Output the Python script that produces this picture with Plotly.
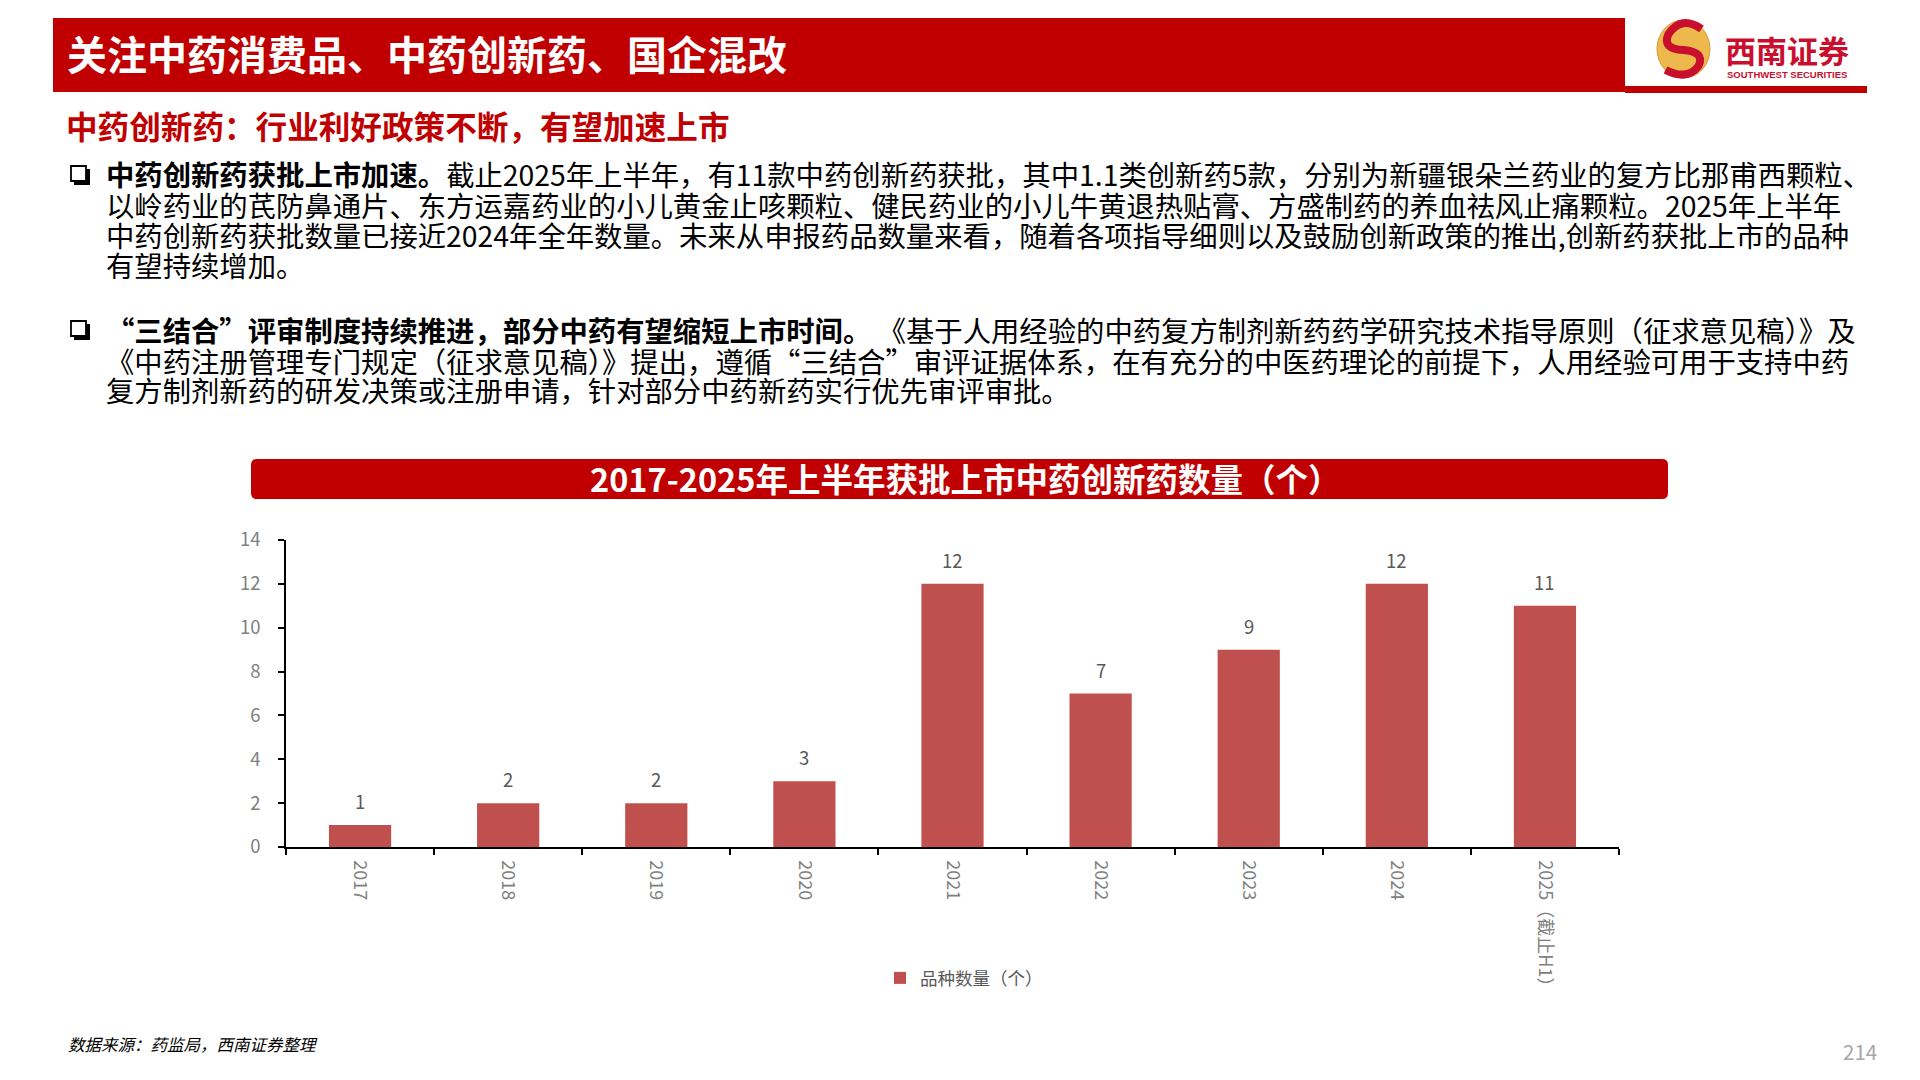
import plotly.graph_objects as go

# ---------------- data ----------------
categories = ["2017", "2018", "2019", "2020", "2021", "2022", "2023", "2024", "2025（截止H1）"]
counts = [1, 2, 2, 3, 12, 7, 9, 12, 11]
y_ticks = [0, 2, 4, 6, 8, 10, 12, 14]
series_name = "品种数量（个）"

header_title = "关注中药消费品、中药创新药、国企混改"
sub_title = "中药创新药：行业利好政策不断，有望加速上市"
chart_title = "2017-2025年上半年获批上市中药创新药数量（个）"
para1_lines = [
    "<b>中药创新药获批上市加速。</b>截止2025年上半年，有11款中药创新药获批，其中1.1类创新药5款，分别为新疆银朵兰药业的复方比那甫西颗粒、",
    "以岭药业的芪防鼻通片、东方运嘉药业的小儿黄金止咳颗粒、健民药业的小儿牛黄退热贴膏、方盛制药的养血祛风止痛颗粒。2025年上半年",
    "中药创新药获批数量已接近2024年全年数量。未来从申报药品数量来看，随着各项指导细则以及鼓励创新政策的推出,创新药获批上市的品种",
    "有望持续增加。",
]
para2_lines = [
    "<b>“三结合”评审制度持续推进，部分中药有望缩短上市时间。</b> 《基于人用经验的中药复方制剂新药药学研究技术指导原则（征求意见稿）》及",
    "《中药注册管理专门规定（征求意见稿）》提出，遵循“三结合”审评证据体系，在有充分的中医药理论的前提下，人用经验可用于支持中药",
    "复方制剂新药的研发决策或注册申请，针对部分中药新药实行优先审评审批。",
]
source_text = "数据来源：药监局，西南证券整理"
page_no = "214"

# ---------------- helpers ----------------
W, H = 1920, 1080
OFF = 8  # page body margin offset of the rendered figure
FONT = "Noto Sans CJK SC, Noto Sans, sans-serif"
RED = "#C00000"


def px(x):
    return (x - OFF) / W


def py(y):
    return 1 - (y - OFF) / H


def path_px(cmds):
    out = []
    for c in cmds:
        if isinstance(c, str):
            out.append(c)
        else:
            out.append(f"{px(c[0]):.6f},{py(c[1]):.6f}")
    return " ".join(out)


shapes = []
annotations = []


def rect(x0, y0, x1, y1, fill, line_color=None, line_width=0):
    shapes.append(dict(type="rect", xref="paper", yref="paper",
                       x0=px(x0), x1=px(x1), y0=py(y1), y1=py(y0),
                       fillcolor=fill, line=dict(color=line_color or fill, width=line_width),
                       layer="above"))


def text(x, y, s, size, color="black", xanchor="left", bold=False, italic=False, family=FONT):
    annotations.append(dict(xref="paper", yref="paper", x=px(x), y=py(y), text=(f"<b>{s}</b>" if bold else s),
                            showarrow=False, xanchor=xanchor, yanchor="middle",
                            font=dict(size=size, color=color, family=family,
                                      style="italic" if italic else "normal")))


# header
rect(53, 18, 1625, 92, RED)
rect(1625, 86, 1867, 93, RED)
text(65, 53, header_title, 40, "white", bold=True)

# logo
shapes.append(dict(type="circle", xref="paper", yref="paper", x0=px(1657), x1=px(1710), y0=py(78), y1=py(20),
                   fillcolor="#EDB84C", line=dict(color="#D39A3A", width=1), layer="above"))
cx, cy = 1683.5, 49
s_path = path_px(["M", (cx + 18, cy - 20), "Q", (cx - 2, cy - 34), (cx - 15, cy - 15),
                  "Q", (cx - 22, cy), (cx, cy + 1), "Q", (cx + 22, cy + 3), (cx + 15, cy + 17),
                  "Q", (cx + 4, cy + 32), (cx - 18, cy + 21)])
shapes.append(dict(type="path", xref="paper", yref="paper", path=s_path,
                   line=dict(color="#C8102E", width=8), layer="above"))
text(1723, 49, "西南证券", 31, "#C8102E", bold=True)
text(1725, 74, "SOUTHWEST SECURITIES", 9.5, "#C8102E", bold=True, family="Liberation Sans, Arial, sans-serif")

# subtitle
text(64, 125, sub_title, 31.6, RED, bold=True)

# bullets + body text
line_y1 = [174, 204.5, 234, 264.5]
line_y2 = [329, 360, 390]
for by in (line_y1[0], line_y2[0]):
    rect(74, by - 5, 90, by + 11, "black")
    rect(71, by - 8, 86, by + 7, "white", "black", 1.8)
for ly, s in zip(line_y1, para1_lines):
    text(104, ly, s, 28.35, "black")
for ly, s in zip(line_y2, para2_lines):
    text(104, ly, s, 28.35, "black")

# chart title bar (rounded)
x0, y0, x1, y1, r = 251, 459, 1668, 499, 6
bar_path = path_px(["M", (x0 + r, y0), "L", (x1 - r, y0), "Q", (x1, y0), (x1, y0 + r),
                    "L", (x1, y1 - r), "Q", (x1, y1), (x1 - r, y1), "L", (x0 + r, y1),
                    "Q", (x0, y1), (x0, y1 - r), "L", (x0, y0 + r), "Q", (x0, y0), (x0 + r, y0), "Z"])
shapes.append(dict(type="path", xref="paper", yref="paper", path=bar_path,
                   fillcolor=RED, line=dict(color=RED, width=0), layer="above"))
text(964.5, 477.5, chart_title, 32.5, "white", xanchor="center", bold=True)

# footer
text(66, 1043.5, source_text, 16.5, "black", italic=True)
text(1841, 1051, page_no, 20.5, "#A6A6A6")

# data labels anchored on the data axes (category index positions)
for i, v in enumerate(counts):
    annotations.append(dict(xref="x", yref="y", x=i, y=v, text=str(v), showarrow=False,
                            xanchor="center", yanchor="middle", yshift=24,
                            font=dict(size=18.5, color="#595959", family=FONT)))

# ---------------- figure ----------------
fig = go.Figure()
fig.add_trace(go.Bar(x=categories, y=counts, name=series_name,
                     marker=dict(color="#C0504D", line=dict(width=0))))

fig.update_layout(
    width=W, height=H,
    margin=dict(l=0, r=0, t=0, b=0, autoexpand=False),
    paper_bgcolor="white", plot_bgcolor="white",
    bargap=0.58,
    font=dict(family=FONT),
    showlegend=True,
    legend=dict(orientation="h", x=px(880), y=py(978), xanchor="left", yanchor="middle",
                font=dict(size=17.5, color="#595959", family=FONT), bgcolor="rgba(0,0,0,0)",
                itemwidth=30),
    xaxis=dict(domain=[px(286), px(1619)], type="category", range=[-0.5, len(categories) - 0.5],
               automargin=False, showline=True, linecolor="black",
               linewidth=1.5, ticks="outside", tickson="boundaries", ticklen=6, tickcolor="black",
               tickwidth=1.5, tickangle=90, showgrid=False, ticklabelstandoff=8,
               tickfont=dict(size=18, color="#7F7F7F", family=FONT)),
    yaxis=dict(domain=[py(847), py(540)], range=[0, 14], tickvals=y_ticks, showline=True,
               automargin=False,
               linecolor="black", linewidth=1.5, ticks="outside", ticklen=6, tickcolor="black",
               tickwidth=1.5, showgrid=False, zeroline=False, ticklabelstandoff=14,
               tickfont=dict(size=18.5, color="#7F7F7F", family=FONT)),
    shapes=shapes,
    annotations=annotations,
)

fig.write_html("out.html")
